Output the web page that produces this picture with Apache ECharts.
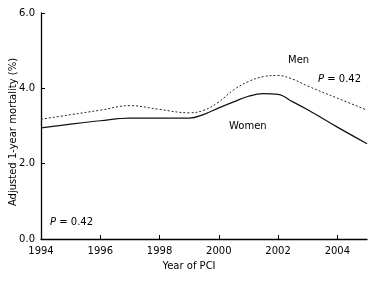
<!DOCTYPE html>
<html>
<head>
<meta charset="utf-8">
<script src="https://cdn.jsdelivr.net/npm/echarts@6/dist/echarts.min.js"></script>
<style>
  html, body { margin: 0; padding: 0; background: #fff; }
  #chart { width: 382px; height: 283px; }
</style>
</head>
<body>
<div id="chart"></div>
<script>
var years = [1994, 1995, 1996, 1997, 1998, 1999, 1999.5, 2000, 2000.5, 2001, 2001.5, 2002, 2002.5, 2003, 2004, 2005];
var men   = [3.18, 3.30, 3.42, 3.54, 3.44, 3.35, 3.42, 3.64, 3.96, 4.18, 4.31, 4.34, 4.24, 4.06, 3.74, 3.42];
var women = [2.95, 3.05, 3.14, 3.21, 3.21, 3.21, 3.31, 3.48, 3.64, 3.79, 3.86, 3.84, 3.64, 3.43, 2.97, 2.53];
var yTicks = [0, 2, 4, 6];

var font = 'DejaVu Sans, Verdana, sans-serif';
var fsize = 10;

function pairs(xs, ys) {
  return xs.map(function (x, i) { return [x, ys[i]]; });
}

var chart = echarts.init(document.getElementById('chart'));
chart.setOption({
  animation: false,
  grid: { left: 41, right: 15, top: 13, bottom: 44, containLabel: false, outerBoundsMode: 'none' },
  xAxis: {
    type: 'value',
    min: 1994, max: 2005, interval: 2,
    name: 'Year of PCI',
    nameLocation: 'middle',
    nameGap: 22,
    nameMoveOverlap: false,
    nameTextStyle: { fontFamily: font, fontSize: fsize, color: '#000', padding: [0, 30, 0, 0] },
    axisLine: { lineStyle: { color: '#000', width: 1.3 } },
    axisTick: { inside: true, length: 4, lineStyle: { color: '#000' } },
    axisLabel: {
      fontFamily: font, fontSize: fsize, color: '#000', margin: 7,
      showMaxLabel: false,
      formatter: function (v) { return String(v); }
    },
    splitLine: { show: false }
  },
  yAxis: {
    type: 'value',
    min: yTicks[0], max: yTicks[yTicks.length - 1], interval: 2,
    name: 'Adjusted 1-year mortality (%)',
    nameLocation: 'middle',
    nameGap: 23,
    nameMoveOverlap: false,
    nameTextStyle: { fontFamily: font, fontSize: fsize, color: '#000', padding: [0, 12, 0, 0] },
    axisLine: { show: true, lineStyle: { color: '#000', width: 1.3 } },
    axisTick: { show: true, inside: true, length: 4, lineStyle: { color: '#000' } },
    axisLabel: {
      fontFamily: font, fontSize: fsize, color: '#000', margin: 6,
      formatter: function (v) { return v.toFixed(1); }
    },
    splitLine: { show: false }
  },
  series: [
    {
      name: 'Men', type: 'line', smooth: 0.4, symbol: 'none',
      data: pairs(years, men),
      lineStyle: { color: '#222', width: 1, type: [2, 2] }
    },
    {
      name: 'Women', type: 'line', smooth: 0.4, symbol: 'none',
      data: pairs(years, women),
      lineStyle: { color: '#111', width: 1.2 }
    }
  ],
  graphic: [
    { type: 'text', left: 288, top: 55, style: { text: 'Men', font: fsize + 'px ' + font, fill: '#000' } },
    { type: 'text', left: 229, top: 121, style: { text: 'Women', font: fsize + 'px ' + font, fill: '#000' } },
    { type: 'text', left: 318, top: 74, style: {
        text: '{i|P} = 0.42', font: fsize + 'px ' + font, fill: '#000',
        rich: { i: { fontStyle: 'italic', fontFamily: font, fontSize: fsize } } } },
    { type: 'text', left: 50, top: 217, style: {
        text: '{i|P} = 0.42', font: fsize + 'px ' + font, fill: '#000',
        rich: { i: { fontStyle: 'italic', fontFamily: font, fontSize: fsize } } } }
  ]
});
</script>
</body>
</html>
